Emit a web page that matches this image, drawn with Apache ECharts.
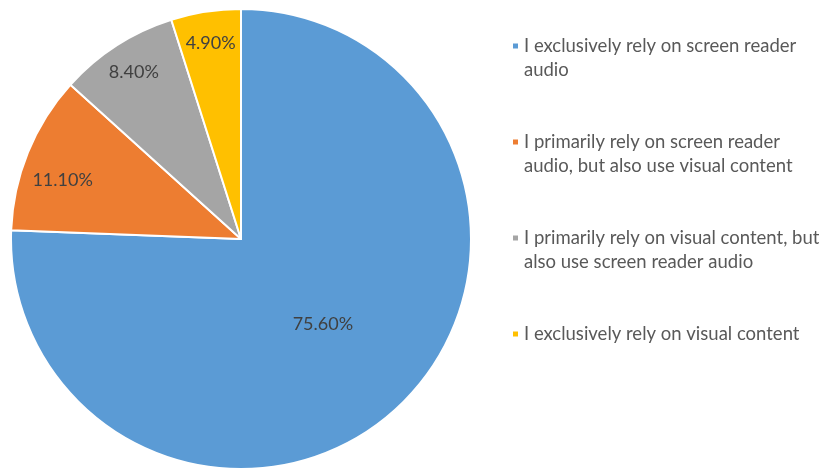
<!DOCTYPE html>
<html>
<head>
<meta charset="utf-8">
<script src="https://cdn.jsdelivr.net/npm/echarts@6/dist/echarts.min.js"></script>
<style>
  html, body { margin: 0; padding: 0; background: #ffffff; }
  #chart { width: 831px; height: 470px; }
</style>
</head>
<body>
<div id="chart"></div>
<script>
// Survey answers: how respondents consume content
const categories = [
  'I exclusively rely on screen reader audio',
  'I primarily rely on screen reader audio, but also use visual content',
  'I primarily rely on visual content, but also use screen reader audio',
  'I exclusively rely on visual content'
];
// Legend text, wrapped the way it is displayed
const legendLines = [
  ['I exclusively rely on screen reader', 'audio'],
  ['I primarily rely on screen reader', 'audio, but also use visual content'],
  ['I primarily rely on visual content, but', 'also use screen reader audio'],
  ['I exclusively rely on visual content']
];
const shares = [75.6, 11.1, 8.4, 4.9];
const colors = ['#5B9BD5', '#ED7D31', '#A5A5A5', '#FFC000'];

const FONT = 'Lato';
const LINE_H = 24;
const center = [241, 239];
const R = 230;

const fmt = p => p.value.toFixed(2) + '%';

// Each legend entry is a 3-line block centred on its icon: an empty line
// above keeps the icon level with the first text line.
function legendText(name) {
  const lines = legendLines[categories.indexOf(name)];
  return ['', lines[0], lines[1] || ''].join('\n');
}

const mainData = categories.map((name, i) => ({ name, value: shares[i] }));
// rim labels: the orange slice's label sits a little lower along its arc
const rimData = categories.map((name, i) => ({
  name,
  value: shares[i],
  label: i === 1 ? { offset: [5, 16] } : {}
}));

const chart = echarts.init(document.getElementById('chart'), null, { renderer: 'canvas' });

chart.setOption({
  animation: false,
  color: colors,
  legend: {
    orient: 'vertical',
    left: 506,
    top: 5,
    itemWidth: 7,
    itemHeight: 7,
    itemGap: 24,
    icon: 'rect',
    selectedMode: false,
    formatter: legendText,
    textStyle: {
      fontFamily: FONT,
      fontSize: 18.5,
      color: '#595959',
      lineHeight: LINE_H
    },
    data: categories
  },
  series: [
    {
      type: 'pie',
      center: center,
      radius: [0, R],
      startAngle: 90,
      clockwise: true,
      avoidLabelOverlap: false,
      silent: true,
      itemStyle: { borderColor: '#ffffff', borderWidth: 2 },
      label: {
        show: true,
        position: 'inside',
        formatter: p => (p.dataIndex === 0 ? fmt(p) : ''),
        fontFamily: FONT,
        fontSize: 18,
        color: '#404040'
      },
      labelLine: { show: false },
      data: mainData
    },
    {
      // label ring for the smaller slices, placed near the rim
      type: 'pie',
      center: center,
      radius: [160, R],
      startAngle: 90,
      clockwise: true,
      avoidLabelOverlap: false,
      silent: true,
      itemStyle: { color: 'rgba(0,0,0,0)', borderWidth: 0 },
      label: {
        show: true,
        position: 'inside',
        formatter: p => (p.dataIndex === 0 ? '' : fmt(p)),
        fontFamily: FONT,
        fontSize: 18,
        color: '#404040'
      },
      labelLine: { show: false },
      data: rimData
    }
  ]
});
</script>
</body>
</html>
